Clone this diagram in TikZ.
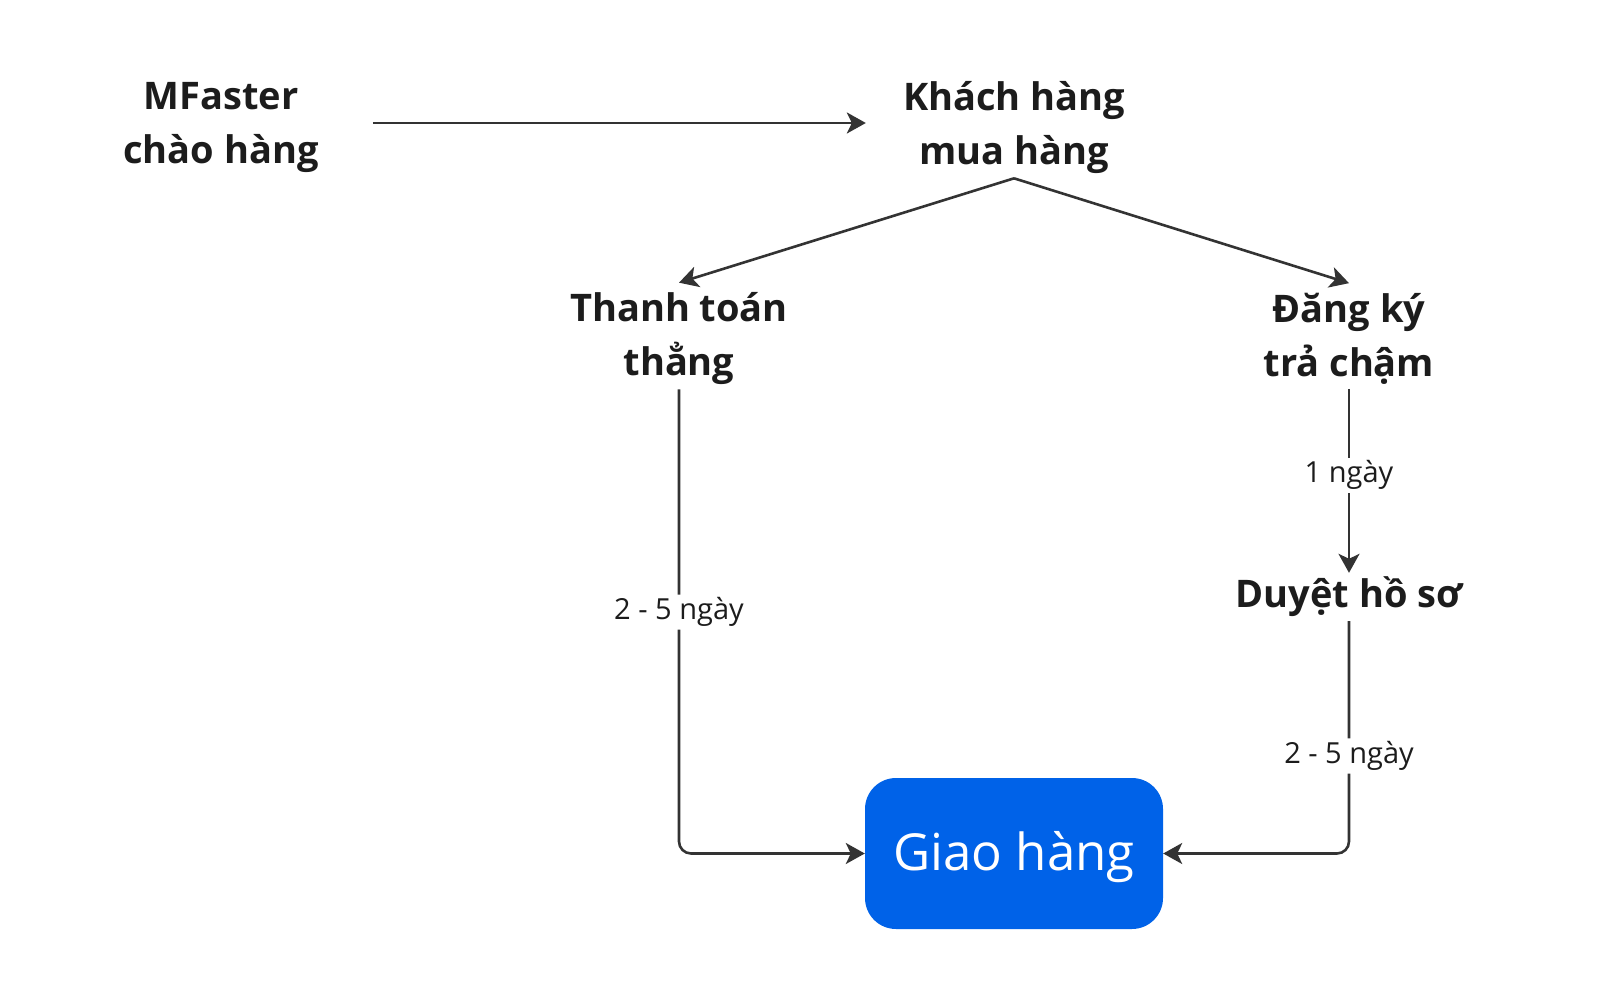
\documentclass[tikz,border=0pt]{standalone}
\usepackage{fontspec}
\setmainfont{Open Sans}
\usetikzlibrary{arrows.meta}
\definecolor{ink}{HTML}{1C1C1C}
\definecolor{linec}{HTML}{333333}
\definecolor{boxblue}{HTML}{0062E8}
\tikzset{
  title/.style={align=center, text=ink, inner sep=4pt, font=\fontsize{38}{54}\selectfont\bfseries},
  lbl/.style={fill=white, text=ink, inner sep=3pt, font=\fontsize{29}{34}\selectfont},
  conn/.style={draw=linec, line width=2.6pt, -{Stealth[length=19pt, width=21pt, inset=5pt]}},
  bluebox/.style={fill=boxblue, text=white, rounded corners=31pt, minimum width=298pt, minimum height=151pt, inner sep=0pt, font=\fontsize{51}{60}\selectfont}
}
\begin{document}
\begin{tikzpicture}[x=1pt, y=-1pt]
\useasboundingbox (0,0) rectangle (1600,981);
\node[title] (mf) at (221,128) {MFaster\\chào hàng};
\node[title] (kh) at (1014,128) {Khách hàng\\mua hàng};
\node[title] (tt) at (679,339) {Thanh toán\\thẳng};
\node[title] (dk) at (1349,339) {Đăng ký\\trả chậm};
\node[title] (dh) at (1349,597) {Duyệt hồ sơ};
\node[bluebox] (gh) at (1014,853.5) {\raisebox{-4pt}[\height][\depth]{Giao hàng}};

\draw[conn, shorten <=50pt, shorten >=33pt] (mf.east |- 0,123) -- (kh.west |- 0,123);
\draw[conn] (kh.south) -- ([yshift=6pt]tt.north);
\draw[conn] (kh.south) -- ([yshift=6pt]dk.north);
\draw[conn, rounded corners=12pt] (tt.south) |- node[lbl, pos=0.24] (l1) {2 - 5 ngày} (gh.west);
\draw[conn] (dk.south) -- node[lbl, pos=0.47] (l2) {1 ngày} (dh.north);
\draw[conn, rounded corners=12pt] (dh.south) |- node[lbl, pos=0.29] (l3) {2 - 5 ngày} (gh.east);
\end{tikzpicture}
\end{document}
